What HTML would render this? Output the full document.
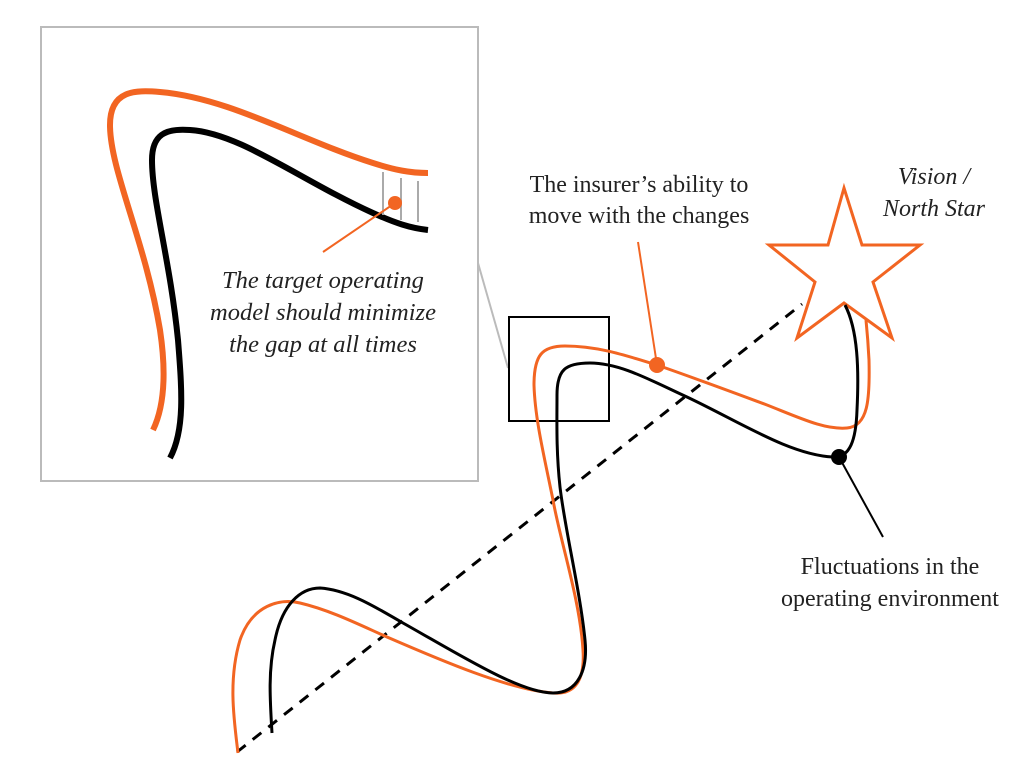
<!DOCTYPE html>
<html><head><meta charset="utf-8"><style>
html,body{margin:0;padding:0;background:#fff;}
svg{display:block;}
text{font-family:"Liberation Serif",serif;fill:#222;font-size:24px;}
.i{font-style:italic;}
</style></head><body>
<svg width="1024" height="781" viewBox="0 0 1024 781" xmlns="http://www.w3.org/2000/svg">
<rect x="41" y="27" width="437" height="454" fill="#fff" stroke="#bbb" stroke-width="2"/>
<line x1="478" y1="263" x2="508" y2="368" stroke="#bbb" stroke-width="2"/>
<path d="M153,430 C165,405 166,370 160,330 C145,240 110,170 110,125 C110,90 135,90 160,92 C230,98 300,140 373,163 C395,170 410,173 428,173" fill="none" stroke="#f26522" stroke-width="6"/>
<path d="M170,458 C185,430 182,390 178,340 C170,260 152,200 152,160 C152,135 165,128 190,130 C240,133 300,180 373,213 C395,223 410,228 428,230" fill="none" stroke="#000" stroke-width="6"/>
<g stroke="#aaa" stroke-width="2"><line x1="383" y1="172" x2="383" y2="215"/><line x1="401" y1="178" x2="401" y2="220"/><line x1="418" y1="181" x2="418" y2="222"/></g>
<line x1="395" y1="203" x2="323" y2="252" stroke="#f26522" stroke-width="2"/>
<circle cx="395" cy="203" r="7" fill="#f26522"/>
<text class="i" x="323" y="288" text-anchor="middle" style="font-size:24.5px">The target operating</text>
<text class="i" x="323" y="320" text-anchor="middle" style="font-size:24.5px">model should minimize</text>
<text class="i" x="323" y="352" text-anchor="middle" style="font-size:24.5px">the gap at all times</text>
<line x1="237" y1="752" x2="802" y2="304" stroke="#000" stroke-width="3" stroke-dasharray="11,9"/>
<rect x="509" y="317" width="100" height="104" fill="none" stroke="#000" stroke-width="2"/>
<polygon points="844,188 862,245 920,245 873,282 892,338 844,303 797,338 815,282 769,245 828,245" fill="none" stroke="#f26522" stroke-width="3"/>
<path d="M238,753 C234,720 228,680 240,640 C252,605 280,598 300,603 C330,610 360,625 387,637 C440,660 510,690 553,693 C575,695 585,680 583,650 C580,600 560,540 553,500 C545,460 535,420 534,385 C534,355 542,346 565,346 C600,346 630,357 657,365 C700,380 740,395 767,405 C800,418 825,430 847,428 C868,426 870,400 869,360 C868,340 867,330 866,320" fill="none" stroke="#f26522" stroke-width="3"/>
<path d="M272,733 C270,700 268,670 275,640 C282,605 300,588 320,588 C350,590 380,610 403,623 C460,655 520,693 553,693 C578,693 588,670 585,640 C580,590 565,530 560,487 C556,450 557,420 557,395 C557,370 565,363 590,363 C620,363 650,380 687,397 C740,422 790,455 833,457 C850,458 856,440 857,410 C859,370 858,330 845,305" fill="none" stroke="#000" stroke-width="3"/>
<line x1="657" y1="365" x2="638" y2="242" stroke="#f26522" stroke-width="2"/>
<circle cx="657" cy="365" r="8" fill="#f26522"/>
<line x1="839" y1="457" x2="883" y2="537" stroke="#000" stroke-width="2"/>
<circle cx="839" cy="457" r="8" fill="#000"/>
<text x="639" y="192" text-anchor="middle">The insurer’s ability to</text>
<text x="639" y="223" text-anchor="middle">move with the changes</text>
<text class="i" x="934" y="184" text-anchor="middle">Vision /</text>
<text class="i" x="934" y="216" text-anchor="middle">North Star</text>
<text x="890" y="574" text-anchor="middle">Fluctuations in the</text>
<text x="890" y="606" text-anchor="middle">operating environment</text>
</svg>
</body></html>
